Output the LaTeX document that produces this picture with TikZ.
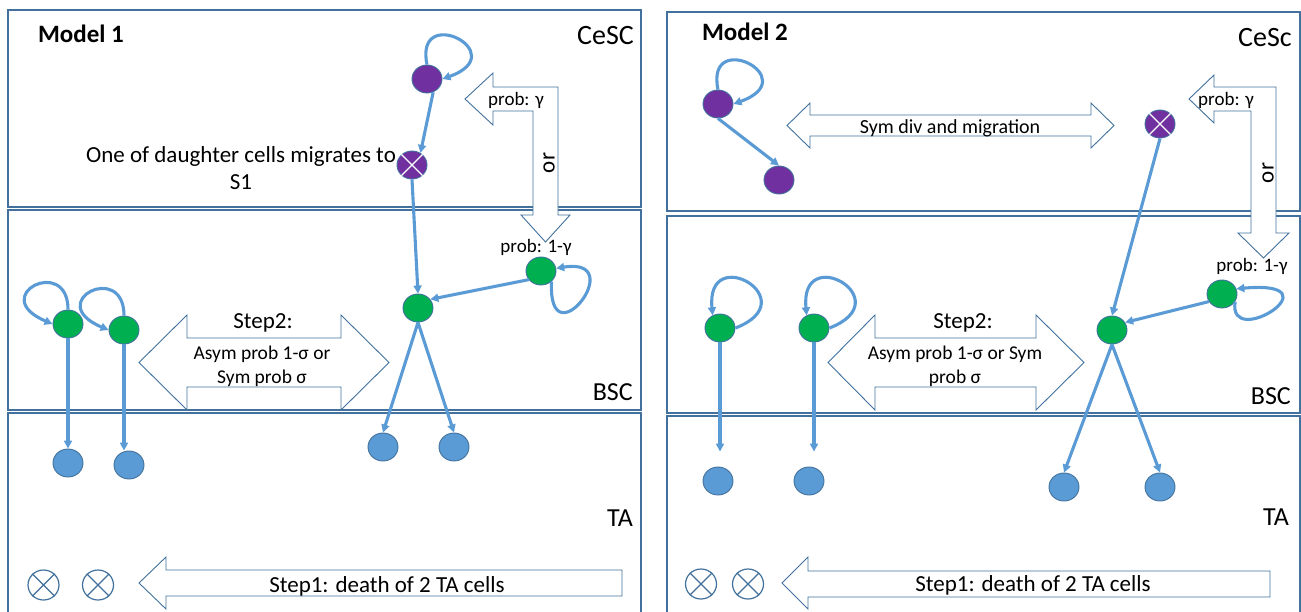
\documentclass[tikz,border=0pt]{standalone}
\usepackage{fontspec}
\setmainfont{Carlito}
\usetikzlibrary{arrows.meta}
\usetikzlibrary{shapes.geometric}
\definecolor{boxblue}{HTML}{41719C}
\definecolor{linkblue}{HTML}{5B9BD5}
\definecolor{bscgreen}{HTML}{00B050}
\definecolor{cescpurple}{HTML}{7030A0}

\begin{document}
\begin{tikzpicture}[x = 1pt, y = 1pt,
	layer/.style={draw=boxblue, line width=1.2pt},
	blockarr/.style={draw=boxblue, fill=white, line width=0.9pt},
	cell/.style={ellipse, draw=boxblue, line width=0.9pt, minimum width=30pt, minimum height=28pt, inner sep=0pt},
	bsccell/.style={cell, fill=bscgreen},
	cesccell/.style={cell, fill=cescpurple},
	tacell/.style={cell, fill=linkblue},
	deadcell/.style={cell, fill=white, line width=1.2pt, minimum width=31pt, minimum height=30pt},
	deadx/.style={draw=boxblue, line width=1.2pt},
	gonex/.style={draw=white, line width=1.2pt},
	link/.style={draw=linkblue, line width=3.1pt, -{Triangle[length=8pt,width=8pt]}},
	txt/.style={inner sep=0pt, font=\fontsize{23}{27}\selectfont},
	layertxt/.style={inner sep=0pt, anchor=east, font=\fontsize{26}{30}\selectfont},
	smalltxt/.style={inner sep=0pt, font=\fontsize{19}{22}\selectfont},
	midtxt/.style={inner sep=0pt, align=center, font=\fontsize{19.5}{24}\selectfont}]

	\useasboundingbox (0,0) rectangle (1301,-611);

	% Model 1
	\draw[layer] (8,-10) rectangle (641,-207);
	\draw[layer] (8,-210) rectangle (641,-410);
	\draw[layer] (8,-413) rectangle (641,-620);

	\draw[blockarr] (139,-362.5) -- (187,-315) -- (187,-338) -- (341,-338) -- (341,-315) -- (389,-362.5) -- (341,-410) -- (341,-387) -- (187,-387) -- (187,-410) -- cycle;
	\draw[blockarr] (139,-583) -- (166,-557) -- (166,-570) -- (622,-570) -- (622,-596) -- (166,-596) -- (166,-609) -- cycle;
	\draw[blockarr] (465,-99) -- (493,-73) -- (493,-87) -- (558,-87) -- (558,-215) -- (570,-215) -- (545.5,-242) -- (521,-215) -- (533,-215) -- (533,-111) -- (493,-111) -- (493,-125) -- cycle;

	\node[txt, font=\fontsize{25}{28}\selectfont\bfseries] (mone) at (81,-34) {Model 1};
	\node[layertxt, font=\fontsize{28}{32}\selectfont] (cescA) at (634,-36) {CeSC};
	\node[layertxt] (bscA) at (633,-392) {BSC};
	\node[layertxt] (taA) at (633,-518) {TA};
	\node[txt, align=center] (migr) at (241,-168) {One of daughter cells migrates to\\S1};
	\node[smalltxt] (gamA) at (516,-100) {prob: γ};
	\node[txt, rotate=90] (orA) at (549,-163) {or};
	\node[smalltxt] (ngamA) at (536,-247) {prob: 1-γ};
	\node[txt] (stepA) at (263,-323) {Step2:};
	\node[midtxt] (sigA) at (262,-366) {Asym prob 1-σ or\\Sym prob σ};
	\node[txt] (deathA) at (387,-586) {Step1: death of 2 TA cells};

	\node[cesccell] (pTop) at (427,-79) {};
	\node[cesccell] (pX) at (412,-165) {};
	\draw[gonex] (pX.45) -- (pX.225) (pX.135) -- (pX.-45);
	\node[bsccell] (gMid) at (418,-308) {};
	\node[bsccell] (gRight) at (541,-271) {};
	\node[bsccell] (gOne) at (68,-324) {};
	\node[bsccell] (gTwo) at (124,-330) {};
	\node[tacell] (tOne) at (68,-463) {};
	\node[tacell] (tTwo) at (129,-465) {};
	\node[tacell] (tLeft) at (383,-447) {};
	\node[tacell] (tRight) at (454,-447) {};
	\node[deadcell] (dOne) at (43.5,-585) {};
	\node[deadcell] (dTwo) at (98,-585) {};
	\draw[deadx] (dOne.45) -- (dOne.225) (dOne.135) -- (dOne.-45);
	\draw[deadx] (dTwo.45) -- (dTwo.225) (dTwo.135) -- (dTwo.-45);

	\draw[link] (pTop.north) .. controls +(-13,62) and +(72,26) .. (pTop.east);
	\draw[link] (pTop.-65) -- (pX.55);
	\draw[link] (pX.south) -- (gMid.north);
	\draw[link] (gRight.215) -- (gMid.35);
	\draw[link] (gRight.-45) .. controls +(-4,-82) and +(75,12) .. (gRight.10);
	\draw[link] (gMid.south) -- (tLeft.north);
	\draw[link] (gMid.south) -- (tRight.north);
	\draw[link] (gOne.north) .. controls +(0,55) and +(-66,28) .. (gOne.west);
	\draw[link] (gTwo.north) .. controls +(0,55) and +(-66,28) .. (gTwo.west);
	\draw[link] (gOne.south) -- (tOne.north);
	\draw[link] (gTwo.south) -- (gTwo.south |- tTwo.north);

	% Model 2
	\draw[layer] (667,-12) rectangle (1300,-211);
	\draw[layer] (667,-216) rectangle (1300,-413);
	\draw[layer] (667,-416) rectangle (1300,-620);

	\draw[blockarr] (787,-125.5) -- (810,-103) -- (810,-115) -- (1091,-115) -- (1091,-103) -- (1114,-125.5) -- (1091,-148) -- (1091,-136) -- (810,-136) -- (810,-148) -- cycle;
	\draw[blockarr] (828,-362.5) -- (875,-315) -- (875,-338) -- (1036,-338) -- (1036,-315) -- (1084,-362.5) -- (1036,-410) -- (1036,-387) -- (875,-387) -- (875,-410) -- cycle;
	\draw[blockarr] (782,-583) -- (808,-557) -- (808,-571) -- (1270,-571) -- (1270,-597) -- (808,-597) -- (808,-609) -- cycle;
	\draw[blockarr] (1189,-99) -- (1214,-75) -- (1214,-87) -- (1276,-87) -- (1276,-233) -- (1289,-233) -- (1263.5,-258) -- (1238,-233) -- (1251,-233) -- (1251,-111) -- (1214,-111) -- (1214,-123) -- cycle;

	\node[txt, font=\fontsize{25}{28}\selectfont\bfseries] (mtwo) at (745,-32) {Model 2};
	\node[layertxt, font=\fontsize{28}{32}\selectfont] (cescB) at (1292,-38) {CeSc};
	\node[layertxt] (bscB) at (1291,-396) {BSC};
	\node[layertxt] (taB) at (1289,-517) {TA};
	\node[midtxt, font=\fontsize{20}{24}\selectfont] (symdiv) at (950,-128) {Sym div and migration};
	\node[smalltxt] (gamB) at (1226,-100) {prob: γ};
	\node[txt, rotate=90] (orB) at (1268,-173) {or};
	\node[smalltxt] (ngamB) at (1252,-266) {prob: 1-γ};
	\node[txt] (stepB) at (963,-323) {Step2:};
	\node[midtxt] (sigB) at (955,-366) {Asym prob 1-σ or Sym\\prob σ};
	\node[txt] (deathB) at (1033,-585) {Step1: death of 2 TA cells};

	\node[cesccell] (pA) at (718,-104) {};
	\node[cesccell] (pB) at (779,-180) {};
	\node[cesccell] (pXb) at (1160,-124) {};
	\draw[gonex] (pXb.45) -- (pXb.225) (pXb.135) -- (pXb.-45);
	\node[bsccell] (gMidb) at (1112,-330) {};
	\node[bsccell] (gRightb) at (1222,-294) {};
	\node[bsccell] (gOneb) at (720,-328) {};
	\node[bsccell] (gTwob) at (814,-328) {};
	\node[tacell] (tOneb) at (718,-481) {};
	\node[tacell] (tTwob) at (809,-481) {};
	\node[tacell] (tLeftb) at (1064,-487) {};
	\node[tacell] (tRightb) at (1160,-487) {};
	\node[deadcell] (dOneb) at (701,-584) {};
	\node[deadcell] (dTwob) at (748,-584) {};
	\draw[deadx] (dOneb.45) -- (dOneb.225) (dOneb.135) -- (dOneb.-45);
	\draw[deadx] (dTwob.45) -- (dTwob.225) (dTwob.135) -- (dTwob.-45);

	\draw[link] (pA.north) .. controls +(-13,62) and +(72,26) .. (pA.east);
	\draw[link] (pA.south) -- (pB.north);
	\draw[link] (pXb.south) -- (gMidb.north);
	\draw[link] (gRightb.210) -- (gMidb.30);
	\draw[link] (gRightb.-30) .. controls +(-8,-50) and +(104,9) .. (gRightb.20);
	\draw[link] (gMidb.south) -- (tLeftb.north);
	\draw[link] (gMidb.south) -- (tRightb.north);
	\draw[link] (gOneb.east) .. controls +(72,28) and +(-7,74) .. (gOneb.120);
	\draw[link] (gTwob.east) .. controls +(72,28) and +(-7,74) .. (gTwob.120);
	\draw[link, shorten >=15pt] (gOneb.south) -- (gOneb.south |- tOneb.north);
	\draw[link, shorten >=15pt] (gTwob.south) -- (gTwob.south |- tTwob.north);
\end{tikzpicture}
\end{document}
